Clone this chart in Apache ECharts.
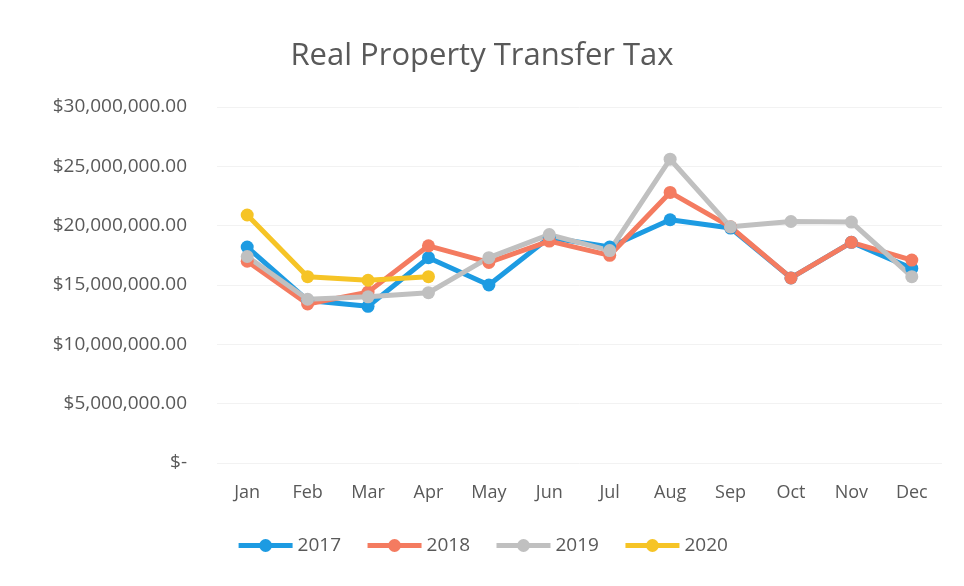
<!DOCTYPE html>
<html>
<head>
<meta charset="utf-8">
<title>Real Property Transfer Tax</title>
<script src="https://cdn.jsdelivr.net/npm/echarts@6/dist/echarts.min.js"></script>
<style>
  html, body { margin: 0; padding: 0; background: #fff; }
  #chart { width: 964px; height: 586px; }
</style>
</head>
<body>
<div id="chart"></div>
<script>
  // months on the x axis
  const months = ['Jan', 'Feb', 'Mar', 'Apr', 'May', 'Jun', 'Jul', 'Aug', 'Sep', 'Oct', 'Nov', 'Dec']
  // monthly totals
  const tax2017 = [18200000, 13700000, 13200000, 17300000, 15000000, 19000000, 18200000, 20500000, 19800000, 15600000, 18600000, 16400000]
  const tax2018 = [17000000, 13400000, 14400000, 18300000, 16900000, 18700000, 17500000, 22800000, 19900000, 15600000, 18600000, 17100000]
  const tax2019 = [17400000, 13800000, 14000000, 14350000, 17300000, 19250000, 17900000, 25600000, 19900000, 20350000, 20300000, 15700000]
  const tax2020 = [20900000, 15700000, 15400000, 15700000]
  const yTicks = [0, 5000000, 10000000, 15000000, 20000000, 25000000, 30000000]

  const seriesList = [
    { name: '2017', data: tax2017, color: '#1d9be2' },
    { name: '2018', data: tax2018, color: '#f47b60' },
    { name: '2019', data: tax2019, color: '#c0c0c0' },
    { name: '2020', data: tax2020, color: '#f6c426' }
  ]

  // $30,000,000.00 style, zero shown as "$-"
  function money(v) {
    if (!v) return '$-'
    let s = Math.round(v).toString().replace(/\B(?=(\d{3})+(?!\d))/g, ',')
    return '$' + s + '.00'
  }

  let myChart = echarts.init(document.getElementById('chart'))
  myChart.setOption({
    animation: false,
    textStyle: { fontFamily: '"Open Sans", "Noto Sans", sans-serif' },
    title: {
      text: 'Real Property Transfer Tax',
      left: 'center',
      top: 36,
      textStyle: { color: '#595959', fontSize: 31, fontWeight: 'normal' }
    },
    legend: {
      bottom: 26,
      left: 'center',
      itemWidth: 54,
      itemHeight: 16,
      itemGap: 24,
      lineStyle: { width: 5 },
      textStyle: { color: '#595959', fontSize: 19 },
      data: seriesList.map(s => s.name)
    },
    grid: { left: 217, right: 22, top: 107, bottom: 123 },
    xAxis: {
      type: 'category',
      data: months,
      axisLine: { show: false },
      axisTick: { show: false },
      axisLabel: { color: '#595959', fontSize: 18, margin: 21 }
    },
    yAxis: {
      type: 'value',
      min: yTicks[0],
      max: yTicks[yTicks.length - 1],
      interval: 5000000,
      axisLine: { show: false },
      axisTick: { show: false },
      splitLine: { lineStyle: { color: '#f2f2f2' } },
      axisLabel: { color: '#595959', fontSize: 19, margin: 30, formatter: money }
    },
    series: seriesList.map(s => ({
      name: s.name,
      type: 'line',
      data: s.data,
      color: s.color,
      symbol: 'circle',
      symbolSize: 13,
      lineStyle: { width: 5, color: s.color },
      itemStyle: { color: s.color }
    }))
  })
</script>
</body>
</html>
